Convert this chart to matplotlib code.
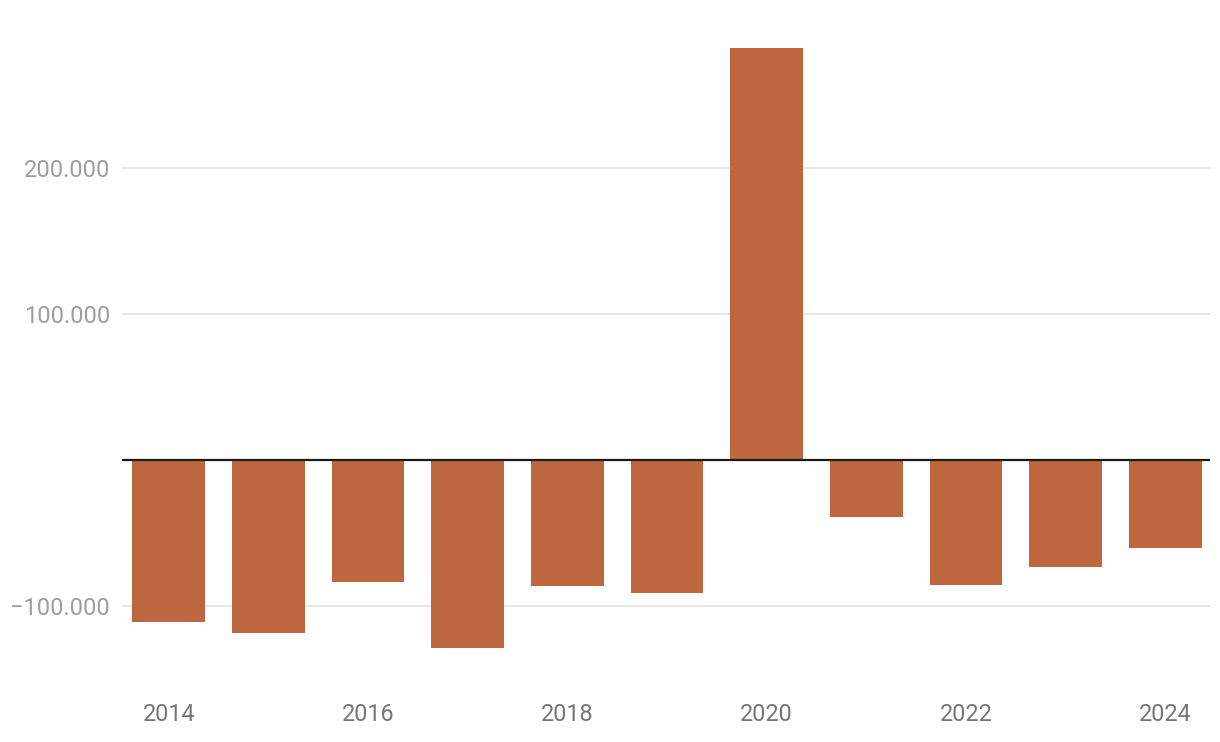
import numpy as np
import matplotlib.pyplot as plt

years  = [2014, 2015, 2016, 2017, 2018, 2019, 2020, 2021, 2022, 2023, 2024]
values = [-111000, -118500, -83500, -128800, -86300, -91100, 282200, -39000, -85600, -73300, -60300]
tick_years = [2014, 2016, 2018, 2020, 2022, 2024]
y_ticks = [-100000, 100000, 200000]

W, H = 1220, 742
fig = plt.figure(figsize=(W/100, H/100), dpi=100)
ymin, ymax = -150000, 290000
px_per = 146/100000.0
y0 = 460
top_px = y0 - ymax*px_per
bot_px = y0 - ymin*px_per
ax = fig.add_axes([122/W, 1 - bot_px/H, (1210-122)/W, (bot_px-top_px)/H])

x = np.arange(len(years))
ax.bar(x, values, width=0.73, color='#BE663E', zorder=2)
ax.axhline(0, color='#1a1a1a', lw=1.6, zorder=3)

ax.set_xlim(-0.47, len(years) - 1 + 0.45)
ax.set_ylim(ymin, ymax)
ax.set_yticks(y_ticks)
ax.set_yticklabels([f"{v:,.0f}".replace(',', '.').replace('-', '\u2212') for v in y_ticks])
ax.set_xticks([years.index(y) for y in tick_years])
ax.set_xticklabels([str(y) for y in tick_years])
ax.grid(axis='y', color='#e3e3e3', lw=1.2, zorder=0)

for s in ax.spines.values():
    s.set_visible(False)
ax.tick_params(axis='y', length=0, pad=8.5, labelsize=17, labelcolor='#9e9e9e')
ax.tick_params(axis='x', length=0, pad=17, labelsize=16.8, labelcolor='#757575')
for lab in ax.get_xticklabels() + ax.get_yticklabels():
    lab.set_fontfamily('Roboto')

fig.savefig('out.png', dpi=100)
